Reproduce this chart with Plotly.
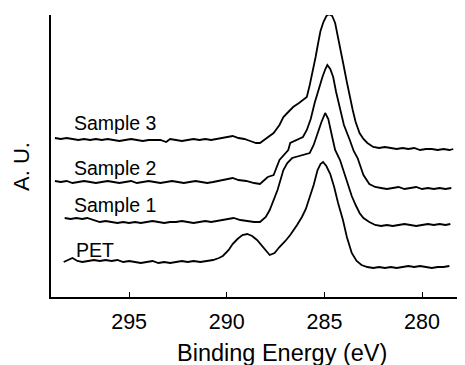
import plotly.graph_objects as go

# ---- data (binding energy in eV, intensity in arbitrary units) ----
s3_energy = [298.8, 298.5, 298.2, 297.9, 297.6, 297.3, 297.0, 296.7, 296.4, 296.1, 295.8, 295.5,
             295.2, 294.9, 294.6, 294.3, 294.0, 293.7, 293.4, 293.1, 292.9, 292.6, 292.3, 292.0,
             291.7, 291.4, 291.1, 290.8, 290.5, 290.2, 289.9, 289.7, 289.4, 289.1, 288.8, 288.5,
             288.3, 288.0, 287.6, 287.3, 287.1, 286.8, 286.6, 286.3, 286.1, 285.9, 285.75, 285.6,
             285.45, 285.3, 285.2, 285.05, 284.9, 284.75, 284.6, 284.45, 284.3, 284.15, 284.0,
             283.85, 283.7, 283.55, 283.4, 283.2, 283.0, 282.8, 282.5, 282.2, 281.9, 281.6, 281.3,
             281.0, 280.7, 280.4, 280.1, 279.8, 279.5, 279.2, 278.9, 278.6, 278.4]
s3_values = [159, 158, 159, 158, 157, 158, 157, 158, 157, 158, 157, 156,
             157, 158, 157, 156, 157, 157, 157, 155, 158, 157, 156, 157,
             158, 157, 158, 157, 158, 159, 160, 161, 159, 158, 156, 154,
             154, 158, 164, 172, 180, 186, 190, 194, 197, 200, 212, 225,
             240, 256, 266, 275, 281, 283, 281, 274, 258, 242, 230,
             215, 200, 187, 175, 164, 158, 154, 150, 149, 150, 149, 148,
             149, 148, 149, 147, 148, 148, 147, 148, 147, 148]

s2_energy = [298.8, 298.5, 298.2, 297.9, 297.6, 297.3, 297.0, 296.7, 296.4, 296.1, 295.8, 295.5,
             295.2, 294.9, 294.6, 294.3, 294.0, 293.7, 293.4, 293.1, 292.8, 292.5, 292.2, 291.9,
             291.6, 291.3, 291.0, 290.7, 290.4, 290.1, 289.7, 289.4, 289.0, 288.6, 288.3, 287.9,
             287.6, 287.3, 287.15, 286.85, 286.75, 286.4, 286.1, 285.9, 285.7, 285.5, 285.3, 285.1,
             284.95, 284.85, 284.7, 284.55, 284.4, 284.2, 284.0, 283.7, 283.5, 283.3, 283.0, 282.7,
             282.4, 282.1, 281.8, 281.5, 281.2, 280.9, 280.6, 280.3, 280.0, 279.7, 279.4, 279.1,
             278.8, 278.5]
s2_values = [116, 115, 116, 114, 115, 116, 115, 114, 115, 116, 115, 114,
             115, 116, 114, 115, 116, 115, 114, 115, 116, 115, 114, 115,
             116, 115, 114, 115, 116, 117, 119, 117, 116, 114, 113, 120,
             122, 137, 140, 147, 154, 157, 160, 167, 178, 194, 208, 220,
             228, 232, 228, 220, 205, 187, 172, 157, 146, 139, 122, 113,
             110, 109, 108, 109, 110, 108, 109, 110, 108, 109, 108, 109,
             108, 109]

s1_energy = [298.3, 298.0, 297.7, 297.4, 297.15, 296.8, 296.5, 296.2, 295.9, 295.6, 295.3, 295.0,
             294.7, 294.4, 294.1, 293.8, 293.5, 293.2, 292.9, 292.6, 292.3, 292.0, 291.7, 291.4,
             291.1, 290.8, 290.5, 290.2, 289.9, 289.65, 289.3, 289.0, 288.6, 288.3, 288.0, 287.8,
             287.6, 287.4, 287.1, 286.9, 286.65, 286.45, 286.25, 286.0, 285.75, 285.55, 285.35,
             285.15, 284.96, 284.8, 284.6, 284.45, 284.2, 284.0, 283.85, 283.6, 283.4, 283.2,
             283.0, 282.7, 282.4, 282.1, 281.8, 281.5, 281.2, 280.9, 280.6, 280.3, 280.0, 279.7,
             279.4, 279.1, 278.8, 278.55]
s1_values = [79, 78, 79, 78, 79, 77, 75, 76, 75, 74, 75, 74,
             75, 74, 75, 76, 75, 74, 75, 75, 76, 75, 74, 75,
             76, 75, 76, 77, 78, 79, 77, 76, 75, 75, 80, 87,
             97, 107, 127, 134, 139, 140, 141, 142, 144, 152, 164,
             175, 184, 178, 160, 147, 137, 125, 114, 101, 92, 84,
             79, 75, 72, 71, 72, 71, 72, 73, 72, 71, 72, 73,
             72, 73, 72, 73]

pet_energy = [298.35, 298.1, 297.9, 297.65, 297.4, 297.1, 296.8, 296.5, 296.2, 295.9, 295.6, 295.3,
              295.0, 294.7, 294.4, 294.1, 293.8, 293.5, 293.2, 292.9, 292.6, 292.3, 292.0, 291.7,
              291.35, 291.0, 290.7, 290.4, 290.2, 289.9, 289.7, 289.45, 289.2, 288.95, 288.7,
              288.45, 288.15, 287.95, 287.8, 287.55, 287.3, 287.0, 286.75, 286.4, 286.15, 285.95,
              285.75, 285.55, 285.35, 285.2, 285.07, 284.9, 284.7, 284.5, 284.3, 284.05, 283.85,
              283.6, 283.35, 283.1, 282.8, 282.5, 282.2, 281.9, 281.6, 281.3, 281.0, 280.7, 280.4,
              280.1, 279.8, 279.5, 279.2, 278.9, 278.6]
pet_values = [35, 37, 39, 36, 35, 36, 37, 36, 37, 36, 37, 35,
              36, 35, 34, 35, 36, 34, 35, 34, 35, 36, 35, 36,
              35, 36, 37, 39, 41, 47, 53, 58, 62, 63, 61,
              57, 50, 45, 42, 44, 50, 56, 62, 72, 80, 88,
              100, 112, 127, 133, 135, 131, 123, 110, 94, 77, 60,
              44, 36, 32, 30, 29, 30, 29, 30, 29, 30, 31, 30,
              31, 30, 29, 30, 30, 31]

series_names = ["Sample 3", "Sample 2", "Sample 1", "PET"]
label_energy = [297.92, 297.92, 297.92, 297.82]
label_values = [174, 129, 92, 47]

x_ticks = [295, 290, 285, 280]
x_range = [299.0, 277.8]
y_range = [0, 282]

x_title = "Binding Energy (eV)"
y_title = "A. U."

FONT = "Liberation Sans, Arial, sans-serif"

fig = go.Figure()
for name, xs, ys in zip(series_names,
                        [s3_energy, s2_energy, s1_energy, pet_energy],
                        [s3_values, s2_values, s1_values, pet_values]):
    fig.add_trace(go.Scatter(x=xs, y=ys, mode="lines", name=name,
                             line=dict(color="black", width=1.8), showlegend=False))

for name, lx, ly in zip(series_names, label_energy, label_values):
    fig.add_annotation(x=lx, y=ly, xref="x", yref="y", text=name, showarrow=False,
                       xanchor="left", yanchor="middle",
                       font=dict(family=FONT, size=19.5, color="black"))

fig.add_annotation(x=-0.0725, y=0.4645, xref="paper", yref="paper", text=y_title,
                   showarrow=False, textangle=-90, xanchor="center", yanchor="middle",
                   font=dict(family=FONT, size=22, color="black"))

fig.add_annotation(x=0.558, y=-0.20, xref="paper", yref="paper", text=x_title,
                   showarrow=False, xanchor="center", yanchor="middle",
                   font=dict(family=FONT, size=23.5, color="black"))

fig.update_layout(
    width=457, height=357,
    margin=dict(l=43, r=0, t=7, b=68),
    paper_bgcolor="white", plot_bgcolor="white",
    font=dict(family=FONT, color="black"),
)
fig.update_xaxes(range=x_range, tickvals=x_ticks, ticktext=[str(t) for t in x_ticks],
                 ticks="inside", ticklen=5, tickwidth=1, tickcolor="black",
                 showline=True, linecolor="black", linewidth=1.5, showgrid=False,
                 zeroline=False, tickfont=dict(family=FONT, size=21.5, color="black"),
                 ticklabelstandoff=4)
fig.update_yaxes(range=y_range, showticklabels=False, ticks="", showline=True,
                 linecolor="black", linewidth=1.5, showgrid=False, zeroline=False)

fig.write_html("out.html")
